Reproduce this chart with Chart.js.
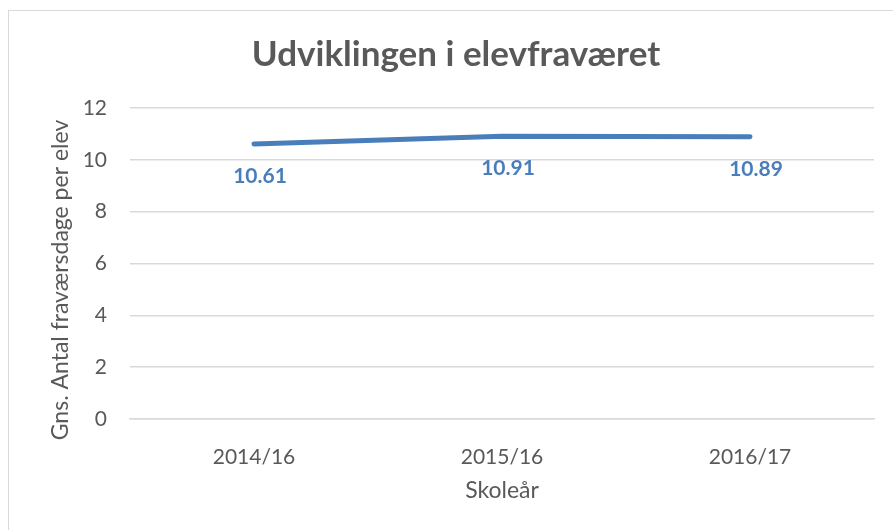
<!DOCTYPE html>
<html><head><meta charset="utf-8"><title>Udviklingen i elevfraværet</title>
<script src="https://cdn.jsdelivr.net/npm/chart.js"></script>
<style>
body{margin:0;background:#fff;overflow:hidden;}
#frame{position:absolute;left:8px;top:10px;width:1000px;height:1000px;border:1px solid #d9d9d9;}
#c{position:absolute;left:0;top:0;}
</style></head>
<body>
<div id="frame"></div>
<canvas id="c" width="893" height="530"></canvas>
<script>
// ---- data ----
const years = ['2014/16', '2015/16', '2016/17'];
const absence = [10.61, 10.91, 10.89];
const yTicks = [0, 2, 4, 6, 8, 10, 12];

const TITLE = 'Udviklingen i elevfraværet';
const Y_TITLE = 'Gns. Antal fraværsdage per elev';
const X_TITLE = 'Skoleår';

const GREY = '#595959';
const BLUE = '#4a7ebb';
const FONT = 'Lato, Carlito, Calibri, sans-serif';

// title, y axis title and value labels
const textPlugin = {
    id: 'texts',
    afterDatasetsDraw(chart) {
        const ctx = chart.ctx;
        const meta = chart.getDatasetMeta(0);
        ctx.save();
        ctx.fillStyle = BLUE;
        ctx.font = 'bold 21px ' + FONT;
        ctx.textAlign = 'center';
        ctx.textBaseline = 'middle';
        meta.data.forEach((pt, i) => {
            ctx.fillText(absence[i].toFixed(2), pt.x + 6, pt.y + 32);
        });
        ctx.restore();
    },
    afterDraw(chart) {
        const ctx = chart.ctx;
        ctx.save();
        ctx.fillStyle = GREY;
        ctx.textAlign = 'center';
        ctx.textBaseline = 'middle';
        ctx.font = 'bold 35px ' + FONT;
        ctx.fillText(TITLE, 456, 55);
        ctx.translate(61, 280);
        ctx.rotate(-Math.PI / 2);
        ctx.font = '23px ' + FONT;
        ctx.fillText(Y_TITLE, 0, 0);
        ctx.restore();
    }
};

new Chart(document.getElementById('c'), {
    type: 'line',
    data: {
        labels: years,
        datasets: [{
            data: absence,
            borderColor: BLUE,
            borderWidth: 5,
            borderCapStyle: 'round',
            borderJoinStyle: 'round',
            pointRadius: 0,
            tension: 0
        }]
    },
    options: {
        responsive: false,
        animation: false,
        layout: { padding: { top: 108, right: 19, left: 0, bottom: 0 } },
        plugins: { legend: { display: false }, title: { display: false }, tooltip: { enabled: false } },
        scales: {
            x: {
                offset: true,
                grid: { display: false },
                border: { color: '#d9d9d9', width: 1.5 },
                ticks: { color: GREY, font: { family: FONT, size: 21 }, padding: 18 },
                title: { display: true, text: X_TITLE, color: GREY, font: { family: FONT, size: 23 }, padding: { top: 0, bottom: 26 } },
                afterFit(s) { s.height = 111; }
            },
            y: {
                min: 0, max: 12,
                afterBuildTicks(s) { s.ticks = yTicks.map(v => ({ value: v })); },
                grid: { color: '#d9d9d9', lineWidth: 1.5, drawTicks: false },
                border: { display: false },
                ticks: { color: GREY, font: { family: FONT, size: 21 }, padding: 23 },
                afterFit(s) { s.width = 130; }
            }
        }
    },
    plugins: [textPlugin]
});
</script>
</body></html>
